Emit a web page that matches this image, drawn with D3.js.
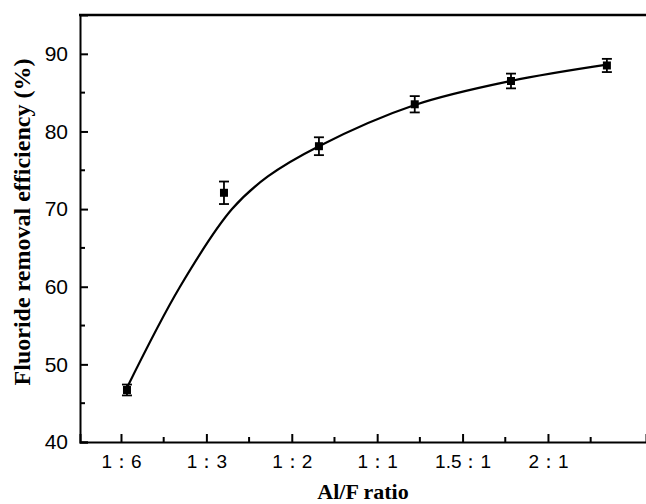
<!DOCTYPE html>
<html><head><meta charset="utf-8">
<script src="https://cdn.jsdelivr.net/npm/d3@7"></script>
<style>body{margin:0;background:#fff}svg{display:block}</style>
</head><body><svg id="c" width="646" height="504"></svg>
<script>
// ---- data ----
const tickLabels = ["1：6", "1：3", "1：2", "1：1", "1.5：1", "2：1"];
const tickPos = [1, 2, 3, 4, 5, 6];
const minorXTicks = [1.5, 2.5, 3.5, 4.5, 5.5, 6.5];
const pointX = [1.07, 2.206, 3.318, 4.44, 5.567, 6.69];
const efficiency = [46.7, 72.1, 78.1, 83.5, 86.5, 88.5];
const errors = [0.7, 1.45, 1.15, 1.05, 0.95, 0.85];
const fitX = [1.07, 1.691, 2.30, 2.72, 3.318, 4.44, 5.567, 6.69];
const fitY = [47.0, 60.0, 70.0, 74.2, 78.1, 83.4, 86.5, 88.6];
const yTicks = [40, 50, 60, 70, 80, 90];
const yMinor = [45, 55, 65, 75, 85];

const svg = d3.select("#c");
const L = 80, R = 646, T = 15, B = 442;
const x = d3.scaleLinear().domain([0.52, 7.148]).range([L, R]);
const y = d3.scaleLinear().domain([40, 95]).range([B, T]);

const g = svg.append("g");
// y axis
const yAxis = d3.axisLeft(y).tickValues(yTicks).tickSize(-8).tickPadding(12).tickFormat(d3.format("d"));
const ya = g.append("g").attr("transform", `translate(${L},0)`).call(yAxis);
ya.selectAll("text").attr("font-family", "Liberation Sans, Arial, sans-serif").attr("font-size", 21).attr("fill", "#000");
ya.append("g").selectAll("line").data(yMinor).join("line")
  .attr("x1", 0).attr("x2", 5).attr("y1", d => y(d)).attr("y2", d => y(d)).attr("stroke", "#000").attr("stroke-width", 2);
// x axis
const xAxis = d3.axisBottom(x).tickValues(tickPos).tickSize(-8).tickPadding(13).tickFormat((d, i) => tickLabels[i]);
const xa = g.append("g").attr("transform", `translate(0,${B})`).call(xAxis);
xa.selectAll("text").attr("font-family", "Liberation Sans, Arial, sans-serif").attr("font-size", 19).attr("fill", "#000");
xa.append("g").selectAll("line").data(minorXTicks).join("line")
  .attr("x1", d => x(d)).attr("x2", d => x(d)).attr("y1", 0).attr("y2", -5).attr("stroke", "#000").attr("stroke-width", 2);
[ya, xa].forEach(a => { a.select(".domain").attr("stroke", "#000").attr("stroke-width", 2); a.selectAll(".tick line").attr("stroke", "#000").attr("stroke-width", 2); });
// top border
g.append("line").attr("x1", L - 1).attr("x2", R).attr("y1", T).attr("y2", T).attr("stroke", "#000").attr("stroke-width", 2.5);

// fit curve
const fit = fitX.map((v, i) => [v, fitY[i]]);
g.append("path").datum(fit)
  .attr("d", d3.line().x(d => x(d[0])).y(d => y(d[1])).curve(d3.curveCatmullRom.alpha(0.5)))
  .attr("fill", "none").attr("stroke", "#000").attr("stroke-width", 2.2);

// error bars
const pts = pointX.map((v, i) => ({x: v, y: efficiency[i], e: errors[i]}));
const eb = g.append("g").attr("stroke", "#000").attr("stroke-width", 1.8);
eb.selectAll(".v").data(pts).join("line")
  .attr("x1", d => x(d.x)).attr("x2", d => x(d.x)).attr("y1", d => y(d.y - d.e)).attr("y2", d => y(d.y + d.e));
eb.selectAll(".t").data(pts).join("line")
  .attr("x1", d => x(d.x) - 5).attr("x2", d => x(d.x) + 5).attr("y1", d => y(d.y + d.e)).attr("y2", d => y(d.y + d.e));
eb.selectAll(".b").data(pts).join("line")
  .attr("x1", d => x(d.x) - 5).attr("x2", d => x(d.x) + 5).attr("y1", d => y(d.y - d.e)).attr("y2", d => y(d.y - d.e));
g.append("g").selectAll("rect").data(pts).join("rect")
  .attr("x", d => x(d.x) - 4).attr("y", d => y(d.y) - 4).attr("width", 8).attr("height", 8).attr("fill", "#000");

// titles
svg.append("text").attr("x", 363).attr("y", 499).attr("text-anchor", "middle")
  .attr("font-family", "Liberation Serif, Times New Roman, serif").attr("font-weight", "bold").attr("font-size", 22)
  .text("Al/F ratio");
svg.append("text").attr("transform", `translate(30,222) rotate(-90)`).attr("text-anchor", "middle")
  .attr("font-family", "Liberation Serif, Times New Roman, serif").attr("font-weight", "bold").attr("font-size", 24)
  .text("Fluoride removal efficiency (%)");
</script></body></html>
